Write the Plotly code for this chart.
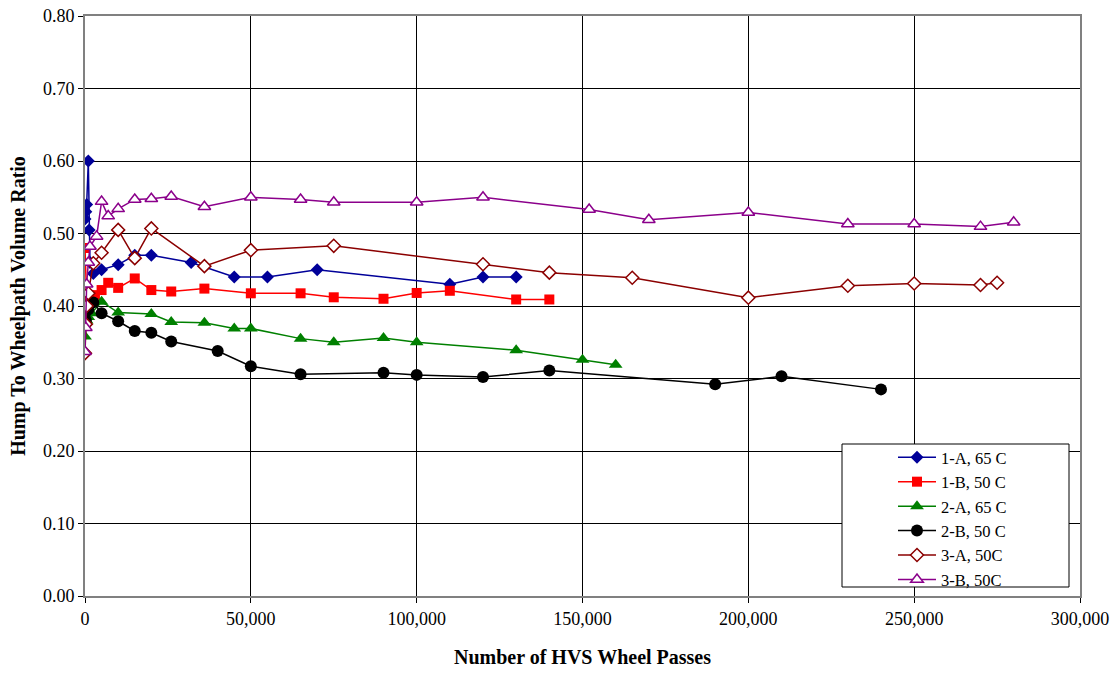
import plotly.graph_objects as go

# ---- data ----
x_1a = [0, 250, 500, 1000, 1250, 1500, 2500, 5000, 10000, 15000, 20000, 32000, 45000, 55000, 70000, 110000, 120000, 130000]
y_1a = [0.52, 0.53, 0.54, 0.60, 0.505, 0.46, 0.445, 0.45, 0.457, 0.47, 0.47, 0.46, 0.44, 0.44, 0.45, 0.43, 0.44, 0.44]

x_1b = [0, 500, 1000, 3000, 5000, 7000, 10000, 15000, 20000, 26000, 36000, 50000, 65000, 75000, 90000, 100000, 110000, 130000, 140000]
y_1b = [0.48, 0.41, 0.415, 0.415, 0.422, 0.432, 0.425, 0.438, 0.422, 0.420, 0.424, 0.4175, 0.4175, 0.412, 0.410, 0.418, 0.421, 0.409, 0.409]

x_2a = [0, 500, 1000, 2000, 5000, 10000, 20000, 26000, 36000, 45000, 50000, 65000, 75000, 90000, 100000, 130000, 150000, 160000]
y_2a = [0.358, 0.38, 0.385, 0.39, 0.406, 0.391, 0.389, 0.378, 0.377, 0.369, 0.369, 0.355, 0.350, 0.356, 0.350, 0.339, 0.326, 0.319]

x_2b = [0, 250, 500, 1000, 2500, 5000, 10000, 15000, 20000, 26000, 40000, 50000, 65000, 90000, 100000, 120000, 140000, 190000, 210000, 240000]
y_2b = [0.39, 0.38, 0.40, 0.395, 0.405, 0.39, 0.379, 0.3655, 0.363, 0.351, 0.338, 0.317, 0.306, 0.308, 0.305, 0.302, 0.311, 0.292, 0.303, 0.285]

x_3a = [0, 250, 500, 1000, 2500, 5000, 10000, 15000, 20000, 36000, 50000, 75000, 120000, 140000, 165000, 200000, 230000, 250000, 270000, 275000]
y_3a = [0.335, 0.375, 0.40, 0.4175, 0.459, 0.4735, 0.505, 0.466, 0.507, 0.455, 0.477, 0.483, 0.4575, 0.446, 0.439, 0.4115, 0.428, 0.431, 0.429, 0.432]

x_3b = [0, 250, 500, 1000, 1500, 3500, 5000, 7000, 10000, 15000, 20000, 26000, 36000, 50000, 65000, 75000, 100000, 120000, 152000, 170000, 200000, 230000, 250000, 270000, 280000]
y_3b = [0.337, 0.37, 0.43, 0.46, 0.482, 0.496, 0.544, 0.524, 0.534, 0.547, 0.548, 0.551, 0.537, 0.550, 0.547, 0.543, 0.543, 0.550, 0.533, 0.519, 0.529, 0.513, 0.513, 0.5095, 0.5155]

names = ["1-A, 65 C", "1-B, 50 C", "2-A, 65 C", "2-B, 50 C", "3-A, 50C", "3-B, 50C"]

FONT = "Liberation Serif"

fig = go.Figure()

series = [
    (x_1a, y_1a, names[0], "#000099", dict(symbol="diamond", size=10, color="#000099")),
    (x_1b, y_1b, names[1], "#FF0000", dict(symbol="square", size=10, color="#FF0000")),
    (x_2a, y_2a, names[2], "#008000", dict(symbol="triangle-up", size=12, color="#008000")),
    (x_2b, y_2b, names[3], "#000000", dict(symbol="circle", size=12, color="#000000")),
    (x_3a, y_3a, names[4], "#8B0000", dict(symbol="diamond", size=10, color="white",
                                         line=dict(color="#8B0000", width=1.5))),
    (x_3b, y_3b, names[5], "#8B008B", dict(symbol="triangle-up", size=11, color="white",
                                         line=dict(color="#8B008B", width=1.5))),
]

for xs, ys, nm, col, mk in series:
    fig.add_trace(go.Scatter(x=xs, y=ys, name=nm, mode="lines+markers",
                             line=dict(color=col, width=1.5), marker=mk))

# pixel geometry of the plot area (page body margin removed below)
L, R, T, B = 85, 1080, 16, 596
W, H = 1118, 673

def px_x(p):
    return (p - L) / (R - L)

def px_y(p):
    return (B - p) / (B - T)

# legend frame (white box)
fig.add_shape(type="rect", xref="paper", yref="paper",
              x0=px_x(842), x1=px_x(1069), y0=px_y(587), y1=px_y(444),
              fillcolor="white", line=dict(color="black", width=1), layer="above")

fig.update_layout(
    width=W, height=H,
    margin=dict(l=L, r=W - R, t=T, b=H - B, autoexpand=False),
    paper_bgcolor="white", plot_bgcolor="white",
    font=dict(family=FONT, size=18, color="black"),
    showlegend=True,
    legend=dict(x=px_x(893), y=px_y(440), xanchor="left", yanchor="top",
                bgcolor="rgba(0,0,0,0)", borderwidth=0,
                font=dict(family=FONT, size=16.5, color="black"),
                itemwidth=38, tracegroupgap=0),
)

fig.update_xaxes(
    range=[0, 300000], dtick=50000, tick0=0, tickformat=",d",
    showgrid=True, gridcolor="black", gridwidth=1,
    showline=True, linecolor="#808080", linewidth=2, mirror=True,
    ticks="outside", ticklen=5, tickcolor="black",
    zeroline=False, ticklabeloverflow="allow",
    title=dict(text="<b>Number of HVS Wheel Passes</b>", font=dict(family=FONT, size=20), standoff=22),
    tickfont=dict(family=FONT, size=18),
)
fig.update_yaxes(
    range=[0, 0.8], dtick=0.1, tick0=0, tickformat=".2f",
    showgrid=True, gridcolor="black", gridwidth=1,
    showline=True, linecolor="#808080", linewidth=2, mirror=True,
    ticks="outside", ticklen=5, tickcolor="black",
    zeroline=False, ticklabeloverflow="allow",
    title=dict(text="<b>Hump To Wheelpath Volume Ratio</b>", font=dict(family=FONT, size=20), standoff=12),
    tickfont=dict(family=FONT, size=18),
)

fig.write_html("out.html",
               config={"displayModeBar": False},
               post_script="document.body.style.margin='0';document.body.style.overflow='hidden';")
